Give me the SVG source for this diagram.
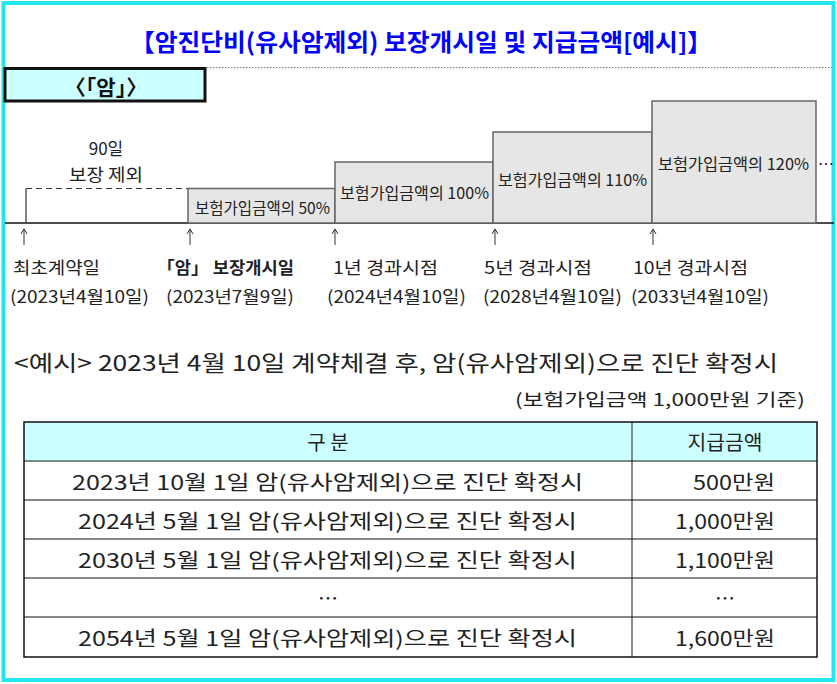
<svg xmlns="http://www.w3.org/2000/svg" width="837" height="684" viewBox="0 0 837 684">
<style>
text{font-family:"Noto Sans CJK KR","Noto Sans",sans-serif;fill:#111;dominant-baseline:central}
.title{font-size:24px;font-weight:bold;fill:#0000FF}
.hdr{font-size:21px;font-weight:bold}
.sm{font-size:16px;fill:#222}
.lb{font-size:17px;fill:#222}
.ex{font-size:22px;fill:#222}
.tb{font-size:20px;fill:#222}
.step{fill:#E6E6E6;stroke:#666;stroke-width:1.5}
.arr{fill:none;stroke:#333;stroke-width:1}
.row{stroke:#111;stroke-width:1.2}
</style>
<rect x="0" y="0" width="837" height="684" fill="#FFFFFF"/>
<rect x="3.5" y="3" width="830" height="677" fill="none" stroke="#22E8EE" stroke-width="4"/>
<g id="title"><text class="title" x="421" y="40" text-anchor="middle" textLength="582" lengthAdjust="spacingAndGlyphs">【암진단비(유사암제외) 보장개시일 및 지급금액[예시]】</text></g>
<g id="header"><line x1="207" y1="67.5" x2="833" y2="67.5" stroke="#777" stroke-width="1" stroke-dasharray="1.5 1.5"/><rect x="5" y="68.5" width="200" height="32.5" fill="#CCFFFF" stroke="#111" stroke-width="3"/><text class="hdr" x="106" y="86" text-anchor="middle">〈「암」〉</text></g>
<g id="timeline">
<line x1="5" y1="223" x2="834" y2="223" stroke="#111" stroke-width="1.5"/>
<g id="waiting"><path d="M26,223 V188.5" fill="none" stroke="#333" stroke-width="1.2"/><path d="M26,188.5 H188" fill="none" stroke="#333" stroke-width="1.2" stroke-dasharray="6 4"/><text class="lb" x="106" y="147" text-anchor="middle">90일</text><text class="lb" x="106" y="173" text-anchor="middle" textLength="74" lengthAdjust="spacingAndGlyphs">보장 제외</text></g>
<g id="s50"><rect class="step" x="188" y="188.5" width="147" height="34.5"/><text class="sm" x="195" y="207" textLength="135" lengthAdjust="spacingAndGlyphs">보험가입금액의 50%</text></g>
<g id="s100"><rect class="step" x="335" y="162" width="158" height="61"/><text class="sm" x="340" y="192" textLength="149" lengthAdjust="spacingAndGlyphs">보험가입금액의 100%</text></g>
<g id="s110"><rect class="step" x="493" y="132" width="159" height="91"/><text class="sm" x="498" y="179" textLength="149" lengthAdjust="spacingAndGlyphs">보험가입금액의 110%</text></g>
<g id="s120"><rect class="step" x="652" y="101" width="164" height="122"/><text class="sm" x="658" y="163" textLength="151" lengthAdjust="spacingAndGlyphs">보험가입금액의 120%</text><text class="sm" x="826" y="163" text-anchor="middle">…</text></g>
</g>
<g id="connectors">
<path class="arr" d="M24,245 V229 M21,234 L24,229 L27,234"/>
<path class="arr" d="M190,245 V229 M187,234 L190,229 L193,234"/>
<path class="arr" d="M335,245 V229 M332,234 L335,229 L338,234"/>
<path class="arr" d="M495,245 V229 M492,234 L495,229 L498,234"/>
<path class="arr" d="M653,245 V229 M650,234 L653,229 L656,234"/>
</g>
<g id="m0"><text class="lb" x="13" y="266" textLength="87" lengthAdjust="spacingAndGlyphs">최초계약일</text><text class="lb" x="10" y="295" textLength="139" lengthAdjust="spacingAndGlyphs">(2023년4월10일)</text></g>
<g id="m1"><text class="lb" x="157" y="266" font-weight="bold" textLength="137" lengthAdjust="spacingAndGlyphs">「암」 보장개시일</text><text class="lb" x="166" y="295" textLength="128" lengthAdjust="spacingAndGlyphs">(2023년7월9일)</text></g>
<g id="m2"><text class="lb" x="333" y="266" textLength="105" lengthAdjust="spacingAndGlyphs">1년 경과시점</text><text class="lb" x="327" y="295" textLength="139" lengthAdjust="spacingAndGlyphs">(2024년4월10일)</text></g>
<g id="m3"><text class="lb" x="484" y="266" textLength="108" lengthAdjust="spacingAndGlyphs">5년 경과시점</text><text class="lb" x="483" y="295" textLength="139" lengthAdjust="spacingAndGlyphs">(2028년4월10일)</text></g>
<g id="m4"><text class="lb" x="633" y="266" textLength="115" lengthAdjust="spacingAndGlyphs">10년 경과시점</text><text class="lb" x="631" y="295" textLength="138" lengthAdjust="spacingAndGlyphs">(2033년4월10일)</text></g>
<g id="example"><text class="ex" x="14" y="361" textLength="764" lengthAdjust="spacingAndGlyphs">&lt;예시&gt; 2023년 4월 10일 계약체결 후, 암(유사암제외)으로 진단 확정시</text><text class="lb" x="805" y="398" font-size="19" text-anchor="end" textLength="290" lengthAdjust="spacingAndGlyphs">(보험가입금액 1,000만원 기준)</text></g>
<g id="table">
<rect x="24" y="422" width="793" height="39" fill="#CCFFFF"/>
<line x1="632" y1="422" x2="632" y2="657" stroke="#666" stroke-width="1.5"/>
<line class="row" x1="24" y1="461" x2="817" y2="461"/>
<line class="row" x1="24" y1="500" x2="817" y2="500"/>
<line class="row" x1="24" y1="539" x2="817" y2="539"/>
<line class="row" x1="24" y1="578" x2="817" y2="578"/>
<line class="row" x1="24" y1="617" x2="817" y2="617"/>
<rect x="24" y="422" width="793" height="235" fill="none" stroke="#111" stroke-width="1.5"/>
<text class="tb" x="328" y="441" text-anchor="middle">구 분</text>
<text class="tb" x="725" y="441" text-anchor="middle" textLength="75" lengthAdjust="spacingAndGlyphs">지급금액</text>
<text class="tb" x="72" y="481" textLength="511" lengthAdjust="spacingAndGlyphs">2023년 10월 1일 암(유사암제외)으로 진단 확정시</text>
<text class="tb" x="775" y="481" text-anchor="end" textLength="82" lengthAdjust="spacingAndGlyphs">500만원</text>
<text class="tb" x="78" y="520" textLength="499" lengthAdjust="spacingAndGlyphs">2024년 5월 1일 암(유사암제외)으로 진단 확정시</text>
<text class="tb" x="775" y="520" text-anchor="end" textLength="100" lengthAdjust="spacingAndGlyphs">1,000만원</text>
<text class="tb" x="78" y="559" textLength="499" lengthAdjust="spacingAndGlyphs">2030년 5월 1일 암(유사암제외)으로 진단 확정시</text>
<text class="tb" x="775" y="559" text-anchor="end" textLength="100" lengthAdjust="spacingAndGlyphs">1,100만원</text>
<text class="tb" x="328" y="597" text-anchor="middle" font-size="16">…</text>
<text class="tb" x="725" y="597" text-anchor="middle" font-size="16">…</text>
<text class="tb" x="78" y="637" textLength="499" lengthAdjust="spacingAndGlyphs">2054년 5월 1일 암(유사암제외)으로 진단 확정시</text>
<text class="tb" x="775" y="637" text-anchor="end" textLength="100" lengthAdjust="spacingAndGlyphs">1,600만원</text>
</g>
</svg>
